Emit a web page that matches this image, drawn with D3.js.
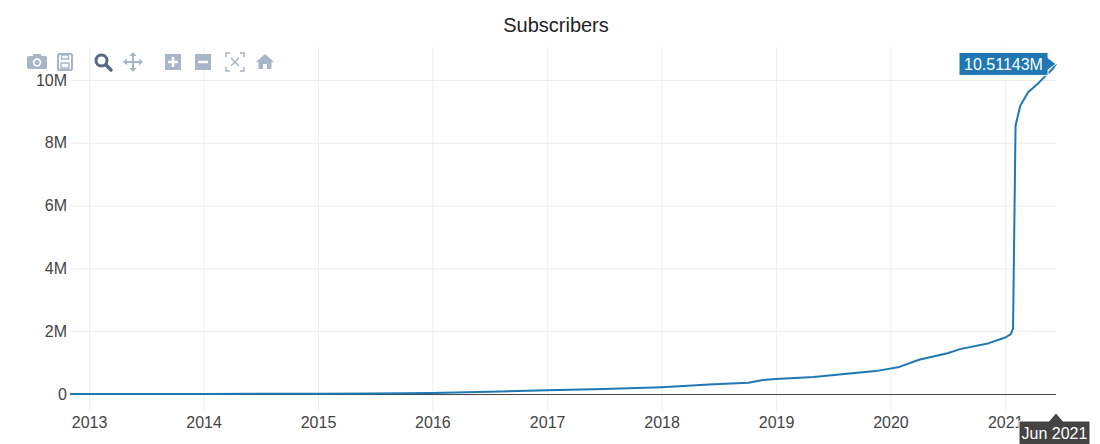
<!DOCTYPE html>
<html>
<head>
<meta charset="utf-8">
<script src="https://cdn.jsdelivr.net/npm/d3@7"></script>
<style>
  body { margin: 0; background: #fff; }
  svg { display: block; font-family: "Liberation Sans", Arial, sans-serif; }
</style>
</head>
<body>
<svg id="chart"></svg>
<script>
// subscriber counts
const dates = [
  "2012-11-01", "2013-06-01", "2014-01-01", "2014-07-01", "2015-01-01", "2015-07-01",
  "2016-01-01", "2016-07-01", "2017-01-01", "2017-07-01", "2018-01-01", "2018-06-01",
  "2018-10-05", "2018-11-20", "2019-01-01", "2019-05-01", "2019-09-01", "2019-11-15",
  "2020-01-25", "2020-04-01", "2020-07-01", "2020-08-10", "2020-11-10", "2021-01-01",
  "2021-01-18", "2021-01-26", "2021-02-03", "2021-02-18", "2021-03-15", "2021-04-20",
  "2021-05-10", "2021-06-01", "2021-06-12"
];
const subscribers = [
  0, 2000, 5000, 8000, 12000, 18000,
  30000, 70000, 120000, 160000, 220000, 300000,
  360000, 450000, 480000, 540000, 660000, 730000,
  850000, 1090000, 1300000, 1430000, 1620000, 1800000,
  1900000, 2080000, 8550000, 9180000, 9610000, 9930000,
  10140000, 10350000, 10511430
];
const yTicks = [0, 2e6, 4e6, 6e6, 8e6, 10e6];
const lastLabel = "10.51143M";
const lastDateLabel = "Jun 2021";

const width = 1100, height = 444;
const marginTop = 47, marginRight = 44, marginBottom = 33, marginLeft = 70;

const parse = d3.utcParse("%Y-%m-%d");
const data = dates.map((d, i) => ({date: parse(d), value: subscribers[i]}));

const x = d3.scaleUtc()
    .domain(d3.extent(data, d => d.date))
    .range([marginLeft, width - marginRight]);
// plotly-style autorange: a little padding below zero and above the max
const y = d3.scaleLinear()
    .domain([-0.54e6, 11.05e6])
    .range([height - marginBottom, marginTop]);

const svg = d3.select("#chart")
    .attr("width", width)
    .attr("height", height)
    .attr("viewBox", [0, 0, width, height]);

// title
svg.append("text")
    .attr("x", 556)
    .attr("y", 32)
    .attr("text-anchor", "middle")
    .attr("font-size", 20)
    .attr("fill", "#222")
    .text("Subscribers");

// x axis with vertical grid
svg.append("g")
    .attr("transform", `translate(0,${height - marginBottom})`)
    .call(d3.axisBottom(x).ticks(d3.utcYear.every(1)).tickFormat(d3.utcFormat("%Y")).tickSize(0).tickPadding(6))
    .call(g => g.select(".domain").remove())
    .call(g => g.selectAll(".tick text").attr("font-size", 16).attr("fill", "#444"))
    .call(g => g.selectAll(".tick line").clone()
        .attr("y2", -(height - marginBottom - marginTop))
        .attr("stroke", "#eee"));

// y axis with horizontal grid
svg.append("g")
    .attr("transform", `translate(${marginLeft},0)`)
    .call(d3.axisLeft(y).tickValues(yTicks).tickFormat(d => d === 0 ? "0" : d3.format("~s")(d)).tickSize(0).tickPadding(3))
    .call(g => g.select(".domain").remove())
    .call(g => g.selectAll(".tick text").attr("font-size", 16).attr("fill", "#444"))
    .call(g => g.selectAll(".tick line").clone()
        .attr("x2", width - marginLeft - marginRight)
        .attr("stroke", d => d === 0 ? "#444" : "#eee"));

// the line
const line = d3.line()
    .x(d => x(d.date))
    .y(d => y(d.value));

svg.append("path")
    .datum(data)
    .attr("fill", "none")
    .attr("stroke", "#1f77b4")
    .attr("stroke-width", 2)
    .attr("stroke-linejoin", "round")
    .attr("d", line);

// hover labels on the last point
const last = data[data.length - 1];
const px = x(last.date), py = y(last.value);
const hover = svg.append("g");
hover.append("path")
    .attr("d", `M${px},${py} L${px - 8},${py - 6} V${py - 11.5} H${px - 97} V${py + 11.5} H${px - 8} V${py + 6} Z`)
    .attr("fill", "#1f77b4")
    .attr("stroke", "#fff");
hover.append("text")
    .attr("x", px - 52.5)
    .attr("y", py + 6)
    .attr("text-anchor", "middle")
    .attr("font-size", 16)
    .attr("fill", "#fff")
    .text(lastLabel);

const bx = px, by = height - marginBottom + 2;
hover.append("path")
    .attr("d", `M${bx},${by} L${bx + 7},${by + 8} H${bx + 34} V${by + 40} H${bx - 37} V${by + 8} H${bx - 7} Z`)
    .attr("fill", "#444")
    .attr("stroke", "#fff");
hover.append("text")
    .attr("x", bx - 1.5)
    .attr("y", by + 26)
    .attr("text-anchor", "middle")
    .attr("font-size", 16)
    .attr("fill", "#fff")
    .text(lastDateLabel);

// modebar icons
const bar = svg.append("g");
const off = "#a8b4c8", on = "#56677f";
function icon(cx, draw) {
  const g = bar.append("g").attr("transform", `translate(${cx},62)`);
  draw(g);
}
icon(37, g => {
  g.append("rect").attr("x", -10).attr("y", -6).attr("width", 20).attr("height", 13).attr("rx", 2).attr("fill", off);
  g.append("rect").attr("x", -4).attr("y", -8).attr("width", 8).attr("height", 3).attr("fill", off);
  g.append("circle").attr("r", 4.2).attr("cy", 0.5).attr("fill", "#fff");
  g.append("circle").attr("r", 2.5).attr("cy", 0.5).attr("fill", off);
});
icon(65, g => {
  g.append("rect").attr("x", -7).attr("y", -8).attr("width", 14).attr("height", 16).attr("rx", 1.5)
    .attr("fill", "none").attr("stroke", off).attr("stroke-width", 2);
  g.append("rect").attr("x", -3.5).attr("y", -7).attr("width", 7).attr("height", 4).attr("fill", "none").attr("stroke", off).attr("stroke-width", 1.5);
  g.append("rect").attr("x", -4).attr("y", 1).attr("width", 8).attr("height", 5).attr("fill", "none").attr("stroke", off).attr("stroke-width", 1.5);
});
icon(103, g => {
  g.append("circle").attr("cx", -1.5).attr("cy", -1.5).attr("r", 5.5).attr("fill", "none").attr("stroke", on).attr("stroke-width", 3);
  g.append("line").attr("x1", 3).attr("y1", 3).attr("x2", 8).attr("y2", 8).attr("stroke", on).attr("stroke-width", 3.5).attr("stroke-linecap", "round");
});
icon(133, g => {
  g.append("line").attr("x1", -8).attr("x2", 8).attr("stroke", off).attr("stroke-width", 2);
  g.append("line").attr("y1", -8).attr("y2", 8).attr("stroke", off).attr("stroke-width", 2);
  g.append("path").attr("d", "M-10,0 l4,-3.5 v7z M10,0 l-4,-3.5 v7z M0,-10 l-3.5,4 h7z M0,10 l-3.5,-4 h7z").attr("fill", off);
});
icon(173, g => {
  g.append("rect").attr("x", -8).attr("y", -8).attr("width", 16).attr("height", 16).attr("fill", off);
  g.append("path").attr("d", "M-5,0 H5 M0,-5 V5").attr("stroke", "#fff").attr("stroke-width", 2.5);
});
icon(203, g => {
  g.append("rect").attr("x", -8).attr("y", -8).attr("width", 16).attr("height", 16).attr("fill", off);
  g.append("path").attr("d", "M-5,0 H5").attr("stroke", "#fff").attr("stroke-width", 2.5);
});
icon(235, g => {
  g.append("path").attr("d", "M-9,-5 V-9 H-5 M5,-9 H9 V-5 M9,5 V9 H5 M-5,9 H-9 V5")
    .attr("fill", "none").attr("stroke", off).attr("stroke-width", 1.5);
  g.append("path").attr("d", "M-4,-4 L4,4 M4,-4 L-4,4").attr("stroke", off).attr("stroke-width", 1.5);
});
icon(265, g => {
  g.append("path").attr("d", "M0,-8 L-9,0 H-6.5 V7 H-2 V2 H2 V7 H6.5 V0 H9 Z").attr("fill", off);
});
</script>
</body>
</html>
